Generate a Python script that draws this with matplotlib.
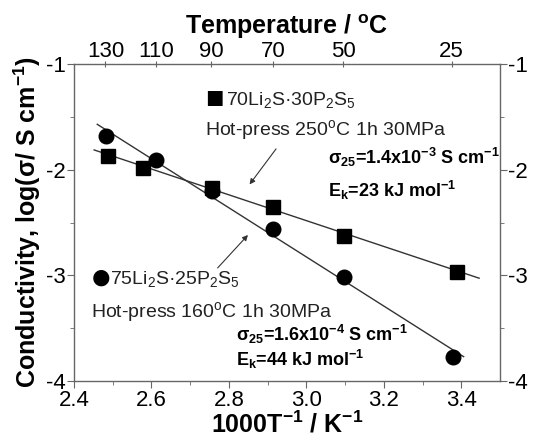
import numpy as np
import matplotlib
matplotlib.use("Agg")
import matplotlib.pyplot as plt

plt.rcParams['font.family'] = ['Liberation Sans', 'DejaVu Sans']
plt.rcParams['mathtext.default'] = 'regular'

# 70Li2S-30P2S5, hot-pressed at 250 C (squares)
x_sq = [2.488, 2.578, 2.756, 2.915, 3.097, 3.390]
y_sq = [-1.866, -1.983, -2.175, -2.355, -2.625, -2.966]
fit_sq_x = [2.452, 3.446]
fit_sq_y = [-1.812, -3.028]

# 75Li2S-25P2S5, hot-pressed at 160 C (circles)
x_ci = [2.482, 2.612, 2.756, 2.915, 3.097, 3.378]
y_ci = [-1.677, -1.904, -2.198, -2.561, -3.016, -3.777]
fit_ci_x = [2.460, 3.406]
fit_ci_y = [-1.569, -3.772]

# top axis: temperature in C and where the ticks sit on the 1000/T scale
temp_labels = ['130', '110', '90', '70', '50', '25']
temp_pos = [2.481, 2.612, 2.754, 2.914, 3.095, 3.375]

grey = '#666666'
line_c = '#333333'

fig = plt.figure(figsize=(5.34, 4.41), dpi=100)
ax = fig.add_axes([0.1386, 0.1367, 0.7978, 0.7175])

ax.plot(fit_sq_x, fit_sq_y, color=line_c, lw=1.0)
ax.plot(fit_ci_x, fit_ci_y, color=line_c, lw=1.0)
ax.plot(x_sq, y_sq, 's', ms=9.5, color='black')
ax.plot(x_ci, y_ci, 'o', ms=10.5, color='black')

ax.set_xlim(2.4, 3.5)
ax.set_ylim(-4, -1)
ax.set_xticks([2.4, 2.6, 2.8, 3.0, 3.2, 3.4])
ax.set_xticks(np.arange(2.5, 3.5, 0.2), minor=True)
ax.set_yticks([-4, -3, -2, -1])
ax.set_yticks([-3.5, -2.5, -1.5], minor=True)
ax.set_xticklabels(['2.4', '2.6', '2.8', '3.0', '3.2', '3.4'])
ax.set_yticklabels(['-4', '-3', '-2', '-1'])

for s in ax.spines.values():
    s.set_color(grey)
    s.set_linewidth(1.0)
ax.tick_params(which='both', direction='out', color=grey, labelsize=16,
               right=True, labelright=True, top=False, pad=2)
ax.tick_params(which='major', length=5)
ax.tick_params(which='minor', length=3)
ax.tick_params(axis='y', pad=1)

ax.set_xlabel('1000T$^{-1}$ / K$^{-1}$', fontsize=18, fontweight='bold', labelpad=0)
ax.set_ylabel('Conductivity, log(σ/ S cm$^{-1}$)', fontsize=18, fontweight='bold', labelpad=2)

top = ax.twiny()
top.set_xlim(ax.get_xlim())
top.set_xticks(temp_pos)
top.set_xticklabels(temp_labels)
top.tick_params(direction='inout', length=4, color=grey, labelsize=16, pad=0)
top.set_xlabel('Temperature / $^{o}$C', fontsize=18, fontweight='bold', labelpad=5)
for s in top.spines.values():
    s.set_visible(False)

# annotations for the 70Li2S-30P2S5 line
ax.text(2.738, -1.34, '■', fontsize=22, va='center', ha='left')
ax.text(2.792, -1.34, '70Li$_2$S·30P$_2$S$_5$', fontsize=14, va='center', ha='left', color='#222222')
ax.text(2.738, -1.623, 'Hot-press 250$^{o}$C 1h 30MPa', fontsize=14, va='center', ha='left', color='#222222')
ax.text(3.055, -1.879, 'σ$_{25}$=1.4x10$^{-3}$ S cm$^{-1}$', fontsize=13, fontweight='bold', va='center', ha='left')
ax.text(3.055, -2.192, 'E$_k$=23 kJ mol$^{-1}$', fontsize=13, fontweight='bold', va='center', ha='left')
ax.annotate('', xy=(2.849, -2.160), xytext=(2.926, -1.781),
            arrowprops=dict(arrowstyle='-|>', lw=0.8, color=line_c, mutation_scale=8))

# annotations for the 75Li2S-25P2S5 line
ax.text(2.440, -3.035, '●', fontsize=27, va='center', ha='left')
ax.text(2.493, -3.035, '75Li$_2$S·25P$_2$S$_5$', fontsize=14, va='center', ha='left', color='#222222')
ax.text(2.444, -3.348, 'Hot-press 160$^{o}$C 1h 30MPa', fontsize=14, va='center', ha='left', color='#222222')
ax.text(2.819, -3.566, 'σ$_{25}$=1.6x10$^{-4}$ S cm$^{-1}$', fontsize=13, fontweight='bold', va='center', ha='left')
ax.text(2.819, -3.803, 'E$_k$=44 kJ mol$^{-1}$', fontsize=13, fontweight='bold', va='center', ha='left')
ax.annotate('', xy=(2.854, -2.599), xytext=(2.766, -2.950),
            arrowprops=dict(arrowstyle='-|>', lw=0.8, color=line_c, mutation_scale=8))

fig.savefig('out.png', dpi=100)
